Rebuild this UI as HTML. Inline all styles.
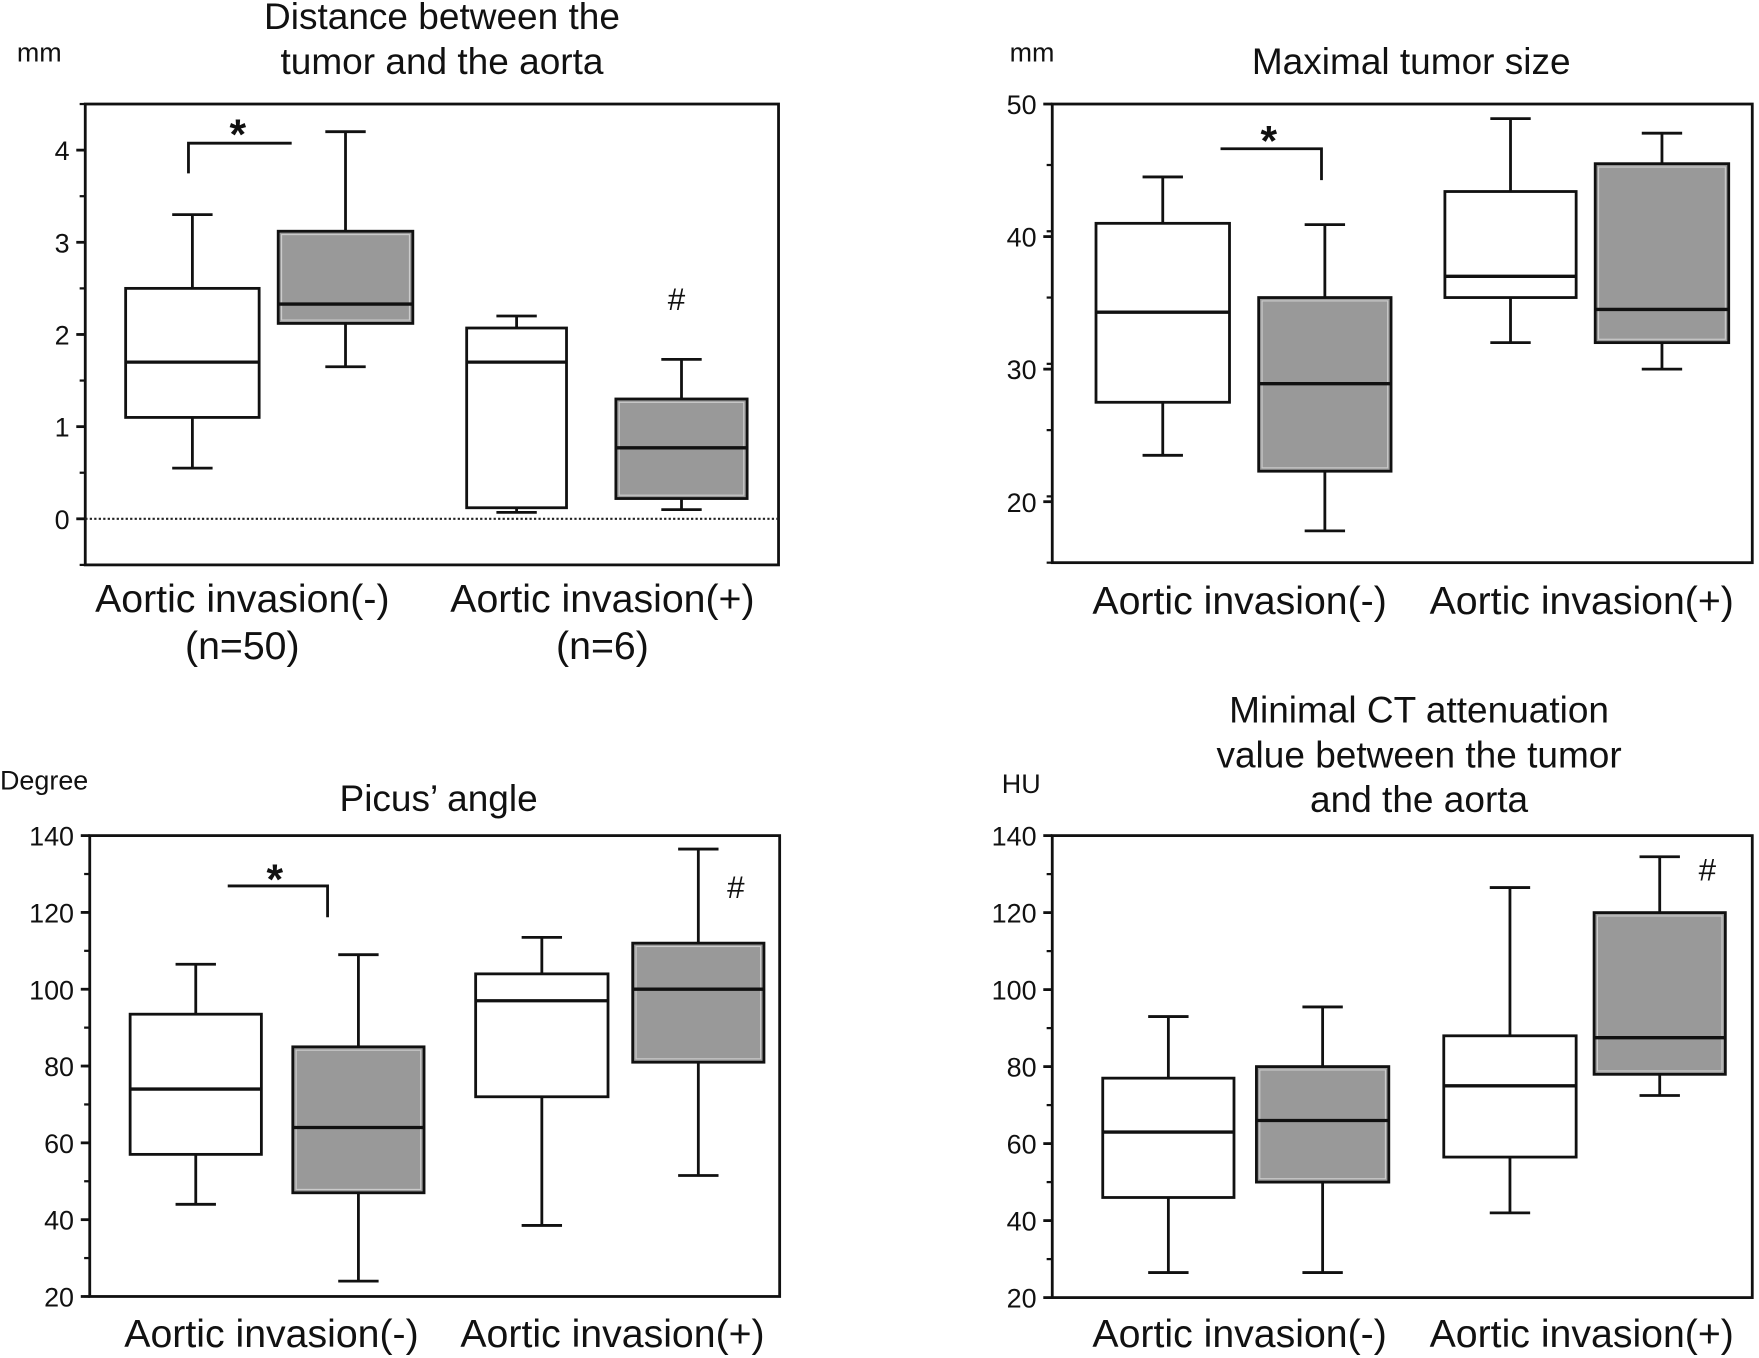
<!DOCTYPE html>
<html><head><meta charset="utf-8"><style>
html,body{margin:0;padding:0;background:#fff;}
svg{display:block;font-family:"Liberation Sans",sans-serif;}
</style></head><body>
<svg id="fig" width="1759" height="1358" viewBox="0 0 1568 1214" preserveAspectRatio="none" xmlns="http://www.w3.org/2000/svg"></svg>
<script>
// Panel 1: distance (mm)
const p1Stats = [[0.55,1.1,1.7,2.5,3.3],[1.65,2.12,2.33,3.12,4.2],[0.07,0.12,1.7,2.07,2.2],[0.1,0.22,0.77,1.3,1.73]];
const p1Ticks = [0,1,2,3,4];
// Panel 2: maximal tumor size (mm)
const p2Stats = [[23.5,27.5,34.3,41,44.5],[17.8,22.3,28.9,35.4,40.9],[32,35.4,37,43.4,48.9],[30,32,34.5,45.5,47.8]];
const p2Ticks = [20,30,40,50];
// Panel 3: Picus' angle (degree)
const p3Stats = [[44,57,74,93.5,106.5],[24,47,64,85,109],[38.5,72,97,104,113.5],[51.5,81,100,112,136.5]];
const p3Ticks = [20,40,60,80,100,120,140];
// Panel 4: minimal CT attenuation (HU)
const p4Stats = [[26.5,46,63,77,93],[26.5,50,66,80,95.5],[42,56.5,75,88,126.5],[72.5,78,87.5,120,134.5]];
const p4Ticks = [20,40,60,80,100,120,140];

const svg = document.getElementById('fig');
const NS = 'http://www.w3.org/2000/svg';
function mk(tag, attrs, parent, name){
  const e = document.createElementNS(NS, tag);
  for (const k in attrs) e.setAttribute(k, attrs[k]);
  
  
  (parent||svg).appendChild(e);
  return e;
}
function txt(x,y,s,size,anchor,parent,name,extra){
  const a = {x:x,y:y,'font-size':size,'text-anchor':anchor||'middle',fill:'#111'};
  if(extra) for(const k in extra) a[k]=extra[k];
  const t = mk('text',a,parent,name);
  t.textContent = s; return t;
}
const SW = 2.5;
function panel(cfg){
  const g = mk('g',{},svg,cfg.name);
  const y = v => cfg.y1 + (cfg.vmax - v) / (cfg.vmax - cfg.vmin) * (cfg.y2 - cfg.y1);
  mk('rect',{x:cfg.x1,y:cfg.y1,width:cfg.x2-cfg.x1,height:cfg.y2-cfg.y1,fill:'none',stroke:'#111','stroke-width':SW},g,'plot-frame');
  cfg.ticks.forEach(t=>{
    mk('line',{x1:cfg.x1-8,x2:cfg.x1,y1:y(t),y2:y(t),stroke:'#111','stroke-width':SW},g,'y-tick');
    txt(cfg.x1-14,y(t)+9,String(t),24,'end',g,'y-tick-label');
  });
  for(let v=cfg.vmin; v<=cfg.vmax+1e-9; v+=cfg.minor){
    mk('line',{x1:cfg.x1-5,x2:cfg.x1,y1:y(v),y2:y(v),stroke:'#111','stroke-width':2},g,'y-minor-tick');
  }
  if(cfg.zeroLine) mk('line',{x1:cfg.x1,x2:cfg.x2,y1:y(0),y2:y(0),stroke:'#222','stroke-width':2,'stroke-dasharray':'2,2'},g,'zero-line');
  cfg.stats.forEach((s,i)=>{
    const [bx,bw]=cfg.boxes[i], cx=bx+bw/2, gray=i%2===1;
    const bg = mk('g',{},g,'box-'+(i+1));
    mk('line',{x1:cx,x2:cx,y1:y(s[0]),y2:y(s[4]),stroke:'#111','stroke-width':SW},bg,'whisker');
    mk('line',{x1:cx-18,x2:cx+18,y1:y(s[0]),y2:y(s[0]),stroke:'#111','stroke-width':SW},bg,'whisker-cap-low');
    mk('line',{x1:cx-18,x2:cx+18,y1:y(s[4]),y2:y(s[4]),stroke:'#111','stroke-width':SW},bg,'whisker-cap-high');
    mk('rect',{x:bx,y:y(s[3]),width:bw,height:y(s[1])-y(s[3]),fill:gray?'#999':'#fff',stroke:'#111','stroke-width':SW},bg,'box-iqr');
    if(gray) mk('rect',{x:bx+3,y:y(s[3])+3,width:bw-6,height:y(s[1])-y(s[3])-6,fill:'none',stroke:'#ccc','stroke-width':1},bg,'box-inner-edge');
    mk('line',{x1:bx,x2:bx+bw,y1:y(s[2]),y2:y(s[2]),stroke:'#111','stroke-width':3},bg,'median-line');
  });
  if(cfg.bracket){
    const b=cfg.bracket;
    mk('polyline',{points:b.pts,fill:'none',stroke:'#111','stroke-width':SW},g,'significance-bracket');
    txt(b.sx,b.sy,'*',38,'middle',g,'significance-star',{'font-weight':'bold'});
  }
  if(cfg.hash) txt(cfg.hash[0],cfg.hash[1],'#',28,'middle',g,'hash-mark');
  txt(cfg.unit[0],cfg.unit[1],cfg.unit[2],24,'start',g,'y-unit-label');
  cfg.title.forEach((l,i)=>txt(cfg.tx,cfg.ty+i*40,l,33,'middle',g,'panel-title'));
  cfg.xlabels.forEach(l=>txt(l[0],l[1],l[2],35,'middle',g,'x-category-label'));
}
panel({name:'panel-distance',x1:76,x2:694,y1:93,y2:505,vmin:-0.5,vmax:4.5,minor:0.5,ticks:p1Ticks,stats:p1Stats,zeroLine:true,
  boxes:[[112,119],[248,120],[416,89],[549,117]],
  bracket:{pts:'168,155 168,128 260,128',sx:212,sy:133},hash:[603,277],unit:[15,55,'mm'],
  title:['Distance between the','tumor and the aorta'],tx:394,ty:26,
  xlabels:[[216,547,'Aortic invasion(-)'],[216,589,'(n=50)'],[537,547,'Aortic invasion(+)'],[537,589,'(n=6)']]});
panel({name:'panel-tumor-size',x1:938,x2:1562,y1:93,y2:503,vmin:15.4,vmax:50,minor:5,ticks:p2Ticks,stats:p2Stats,
  boxes:[[977,119],[1122,118],[1288,117],[1422,119]],
  bracket:{pts:'1088,133 1178,133 1178,161',sx:1131,sy:139},unit:[900,55,'mm'],
  title:['Maximal tumor size'],tx:1258,ty:66,
  xlabels:[[1105,549,'Aortic invasion(-)'],[1410,549,'Aortic invasion(+)']]});
panel({name:'panel-picus-angle',x1:80,x2:695,y1:747,y2:1159,vmin:20,vmax:140,minor:10,ticks:p3Ticks,stats:p3Stats,
  boxes:[[116,117],[261,117],[424,118],[564,117]],
  bracket:{pts:'203,792 292,792 292,820',sx:245,sy:799},hash:[656,803],unit:[0,706,'Degree'],
  title:['Picus’ angle'],tx:391,ty:725,
  xlabels:[[242,1204,'Aortic invasion(-)'],[546,1204,'Aortic invasion(+)']]});
panel({name:'panel-ct-attenuation',x1:938,x2:1562,y1:747,y2:1160,vmin:20,vmax:140,minor:10,ticks:p4Ticks,stats:p4Stats,
  boxes:[[983,117],[1120,118],[1287,118],[1421,117]],
  hash:[1522,787],unit:[893,709,'HU'],
  title:['Minimal CT attenuation','value between the tumor','and the aorta'],tx:1265,ty:646,
  xlabels:[[1105,1204,'Aortic invasion(-)'],[1410,1204,'Aortic invasion(+)']]});
</script>
</body></html>
